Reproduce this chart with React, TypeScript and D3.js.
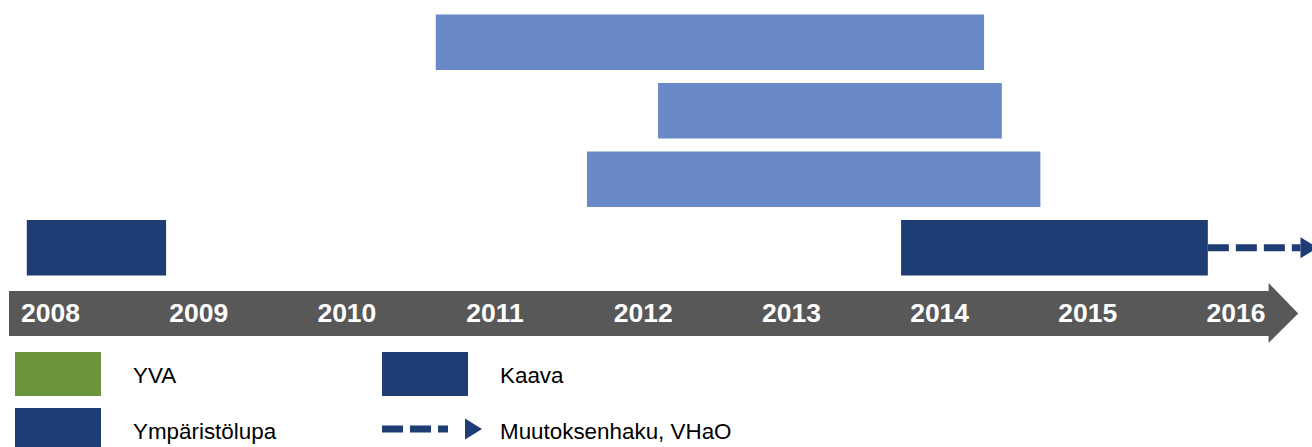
import React from "react";
import * as d3 from "d3";

// -- DATA --
const years = [2008, 2009, 2010, 2011, 2012, 2013, 2014, 2015, 2016];
const rows = ["r1", "r2", "r3", "r4"];
// bars: [row, start, end, kind]
const barRows = ["r1", "r2", "r3", "r4", "r4"];
const barStarts = [2010.6, 2012.1, 2011.62, 2007.84, 2013.74];
const barEnds = [2014.3, 2014.42, 2014.68, 2008.78, 2015.81];
const barKinds = ["light", "light", "light", "Kaava", "Kaava"];
// dashed continuation (appeal)
const appealRow = "r4";
const appealStart = 2015.81;
const appealEnd = 2016.55;
// timeline arrow span
const axisStart = 2007.72;
const axisBodyEnd = 2016.22;
const axisTip = 2016.42;

const legendItems = ["YVA", "Ympäristölupa", "Kaava", "Muutoksenhaku, VHaO"];
const legendKinds = ["YVA", "Ympäristölupa", "Kaava", "appeal"];

const colors: Record<string, string> = {
  light: "#6a89c8",
  Kaava: "#1f3d75",
  Ympäristölupa: "#1f3d75",
  YVA: "#6b953b",
  appeal: "#1f3d75",
  axis: "#585858",
};

const W = 1312;
const H = 447;
const FONT = "'Liberation Sans', Arial, sans-serif";

const App = () => {
  const x = d3.scaleLinear().domain([2008, 2016]).range([50.5, 1236]);
  const y = d3
    .scaleBand()
    .domain(rows)
    .range([14.5, 275.5])
    .paddingInner(0.19)
    .paddingOuter(0);
  const bw = y.bandwidth();

  // timeline band
  const bandTop = 291;
  const bandBot = 336;
  const headTop = 283;
  const headBot = 343;
  const mid = (bandTop + bandBot) / 2;
  const axisPath = [
    `M${x(axisStart)},${bandTop}`,
    `L${x(axisBodyEnd)},${bandTop}`,
    `L${x(axisBodyEnd)},${headTop}`,
    `L${x(axisTip)},${mid}`,
    `L${x(axisBodyEnd)},${headBot}`,
    `L${x(axisBodyEnd)},${bandBot}`,
    `L${x(axisStart)},${bandBot}`,
    "Z",
  ].join(" ");

  const appealY = (y(appealRow) as number) + bw / 2;
  const headLen = 17;

  // legend layout
  const legendX = [15, 15, 382, 382];
  const legendY = [352, 408, 352, 408];

  return (
    <svg
      width={W}
      height={H}
      style={{ position: "absolute", left: 0, top: 0, background: "#fff" }}
    >
      {/* bars */}
      {barStarts.map((s, i) => (
        <rect
          key={"b" + i}
          x={x(s)}
          y={y(barRows[i]) as number}
          width={x(barEnds[i]) - x(s)}
          height={bw}
          fill={colors[barKinds[i]]}
        />
      ))}
      {/* dashed appeal arrow */}
      <line
        x1={x(appealStart)}
        x2={x(appealEnd) - headLen}
        y1={appealY}
        y2={appealY}
        stroke={colors.appeal}
        strokeWidth={7}
        strokeDasharray="21,7"
      />
      <path
        d={`M${x(appealEnd) - headLen},${appealY - 10.5} L${x(appealEnd)},${appealY} L${x(appealEnd) - headLen},${appealY + 10.5} Z`}
        fill={colors.appeal}
      />
      {/* timeline */}
      <path d={axisPath} fill={colors.axis} />
      {years.map((yr) => (
        <text
          key={yr}
          x={x(yr)}
          y={322}
          textAnchor="middle"
          fill="#fff"
          fontFamily={FONT}
          fontWeight="bold"
          fontSize={26.5}
        >
          {yr}
        </text>
      ))}
      {/* legend */}
      {legendItems.map((label, i) => (
        <g key={label}>
          {legendKinds[i] === "appeal" ? (
            <g>
              <line
                x1={legendX[i]}
                x2={legendX[i] + 83 - headLen}
                y1={legendY[i] + 21}
                y2={legendY[i] + 21}
                stroke={colors.appeal}
                strokeWidth={7}
                strokeDasharray="21,7"
              />
              <path
                d={`M${legendX[i] + 83},${legendY[i] + 10.5} L${legendX[i] + 100},${legendY[i] + 21} L${legendX[i] + 83},${legendY[i] + 31.5} Z`}
                fill={colors.appeal}
              />
            </g>
          ) : (
            <rect
              x={legendX[i]}
              y={legendY[i]}
              width={86}
              height={44}
              fill={colors[legendKinds[i]]}
            />
          )}
          <text
            x={legendX[i] + 118}
            y={legendY[i] + 31}
            fontFamily={FONT}
            fontSize={22.4}
            fill="#000"
          >
            {label}
          </text>
        </g>
      ))}
    </svg>
  );
};

export default App;
